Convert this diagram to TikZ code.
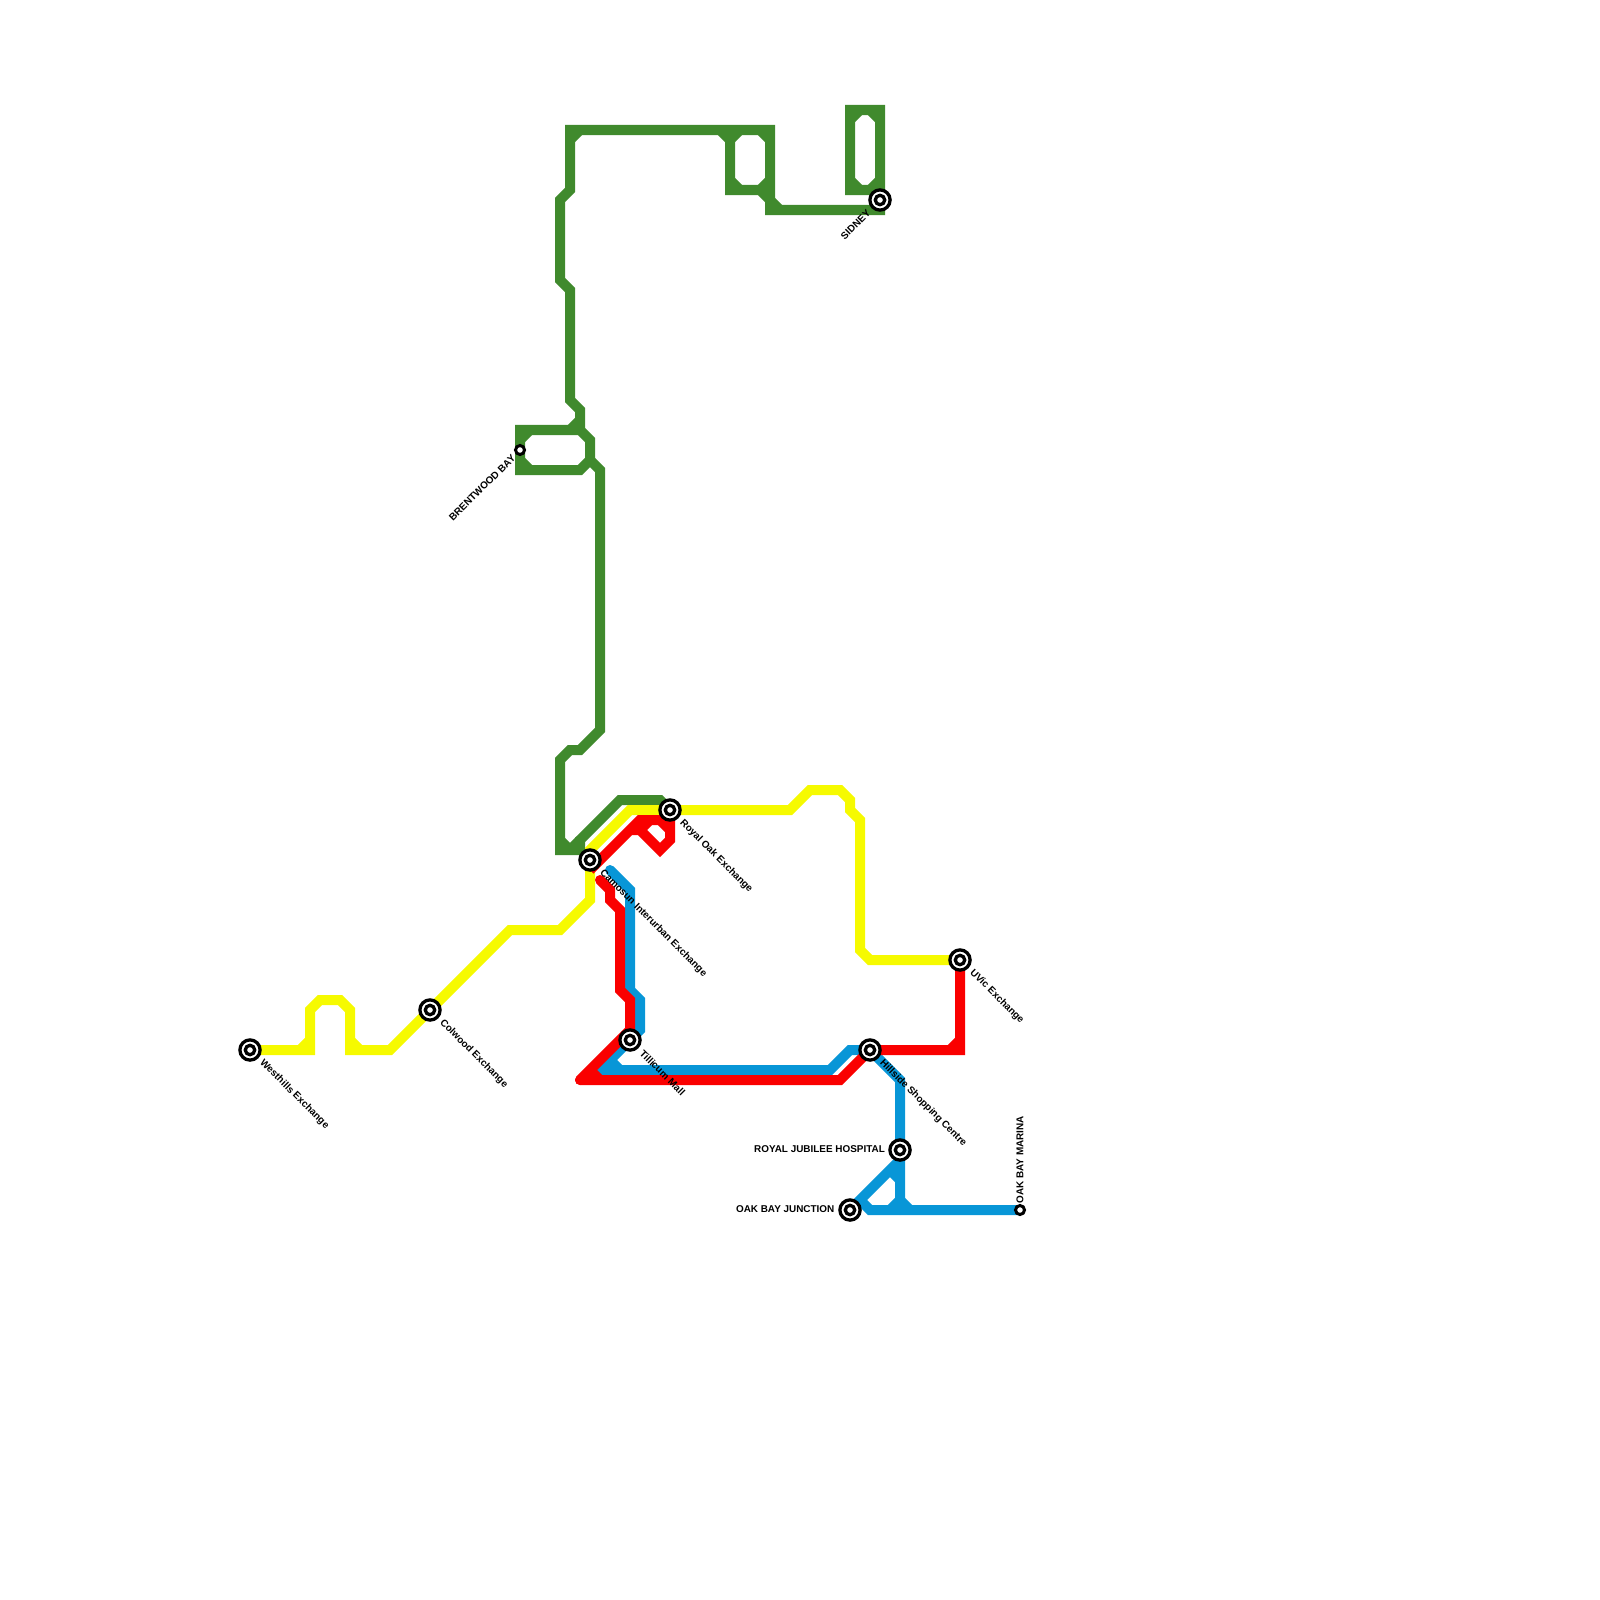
\documentclass[tikz,border=0pt]{standalone}
\usepackage{fontspec}
\setmainfont{Liberation Sans}
\usepackage{xcolor}
\usepackage{tikz}
\definecolor{linegreen}{RGB}{64,138,45}
\definecolor{lineyellow}{RGB}{246,250,0}
\definecolor{linered}{RGB}{250,0,0}
\definecolor{lineblue}{RGB}{8,150,215}

\begin{document}
\begin{tikzpicture}[x=0.01cm, y=-0.01cm,
  route/.style={line width=1mm, line join=miter},
  stn/.style={circle, draw=black, fill=white, line width=0.33mm, minimum size=2.02mm, inner sep=0pt,
    path picture={\draw[black, line width=0.33mm] (path picture bounding box.center) circle (0.47mm);}},
  halt/.style={circle, draw=black, fill=white, line width=0.3mm, minimum size=0.9mm, inner sep=0pt},
  lbl/.style={inner sep=0pt, text=black, font=\fontsize{2.82pt}{3.2pt}\selectfont\bfseries}]
  \useasboundingbox (0,0) rectangle (1600,1600);
  % green: north loops, then the long run south to Royal Oak
  \draw[route, linegreen] (880,190) -- (850,190) -- (850,110) -- (880,110) -- (880,210)
     -- (770,210) -- (770,130) -- (570,130) -- (570,190) -- (560,200) -- (560,280)
     -- (570,290) -- (570,400) -- (580,410) -- (580,430) -- (520,430) -- (520,470)
     -- (580,470) -- (590,460) -- (590,440) -- (580,430);
  \draw[route, linegreen] (590,460) -- (600,470) -- (600,730) -- (580,750) -- (570,750)
     -- (560,760) -- (560,850) -- (580,850) -- (580,840) -- (620,800) -- (660,800) -- (670,810);
  % green: inner corners and short links
  \draw[route, linegreen] (850,120) -- (860,110);
  \draw[route, linegreen] (870,110) -- (880,120);
  \draw[route, linegreen] (850,180) -- (860,190);
  \draw[route, linegreen] (870,190) -- (880,180);
  \draw[route, linegreen] (720,130) -- (730,140) -- (730,190) -- (760,190) -- (780,210);
  \draw[route, linegreen] (730,140) -- (740,130);
  \draw[route, linegreen] (760,130) -- (770,140);
  \draw[route, linegreen] (730,180) -- (740,190);
  \draw[route, linegreen] (760,190) -- (770,180);
  \draw[route, linegreen] (570,140) -- (580,130);
  \draw[route, linegreen] (570,430) -- (580,420);
  \draw[route, linegreen] (520,440) -- (530,430);
  \draw[route, linegreen] (520,460) -- (530,470);
  \draw[route, linegreen] (560,840) -- (570,850);
  \draw[route, linegreen] (570,850) -- (580,840);
  % yellow
  \draw[route, lineyellow] (250,1050) -- (310,1050) -- (310,1010) -- (320,1000) -- (340,1000)
     -- (350,1010) -- (350,1050) -- (390,1050) -- (510,930) -- (560,930) -- (590,900)
     -- (590,850) -- (630,810) -- (790,810) -- (810,790) -- (840,790) -- (850,800)
     -- (850,810) -- (860,820) -- (860,950) -- (870,960) -- (960,960);
  \draw[route, lineyellow] (300,1050) -- (310,1040);
  \draw[route, lineyellow] (350,1040) -- (360,1050);
  % blue
  \draw[route, lineblue, line cap=round] (610,870) -- (630,890) -- (630,990) -- (640,1000)
     -- (640,1030) -- (600,1070) -- (830,1070) -- (850,1050) -- (870,1050) -- (900,1080)
     -- (900,1210);
  \draw[route, lineblue] (610,1060) -- (620,1070);
  \draw[route, lineblue] (850,1210) -- (900,1160);
  \draw[route, lineblue] (860,1200) -- (870,1210) -- (1020,1210);
  \draw[route, lineblue] (890,1170) -- (900,1180);
  \draw[route, lineblue] (890,1210) -- (900,1200) -- (910,1210);
  % red
  \draw[route, linered] (590,870) -- (640,820) -- (670,820) -- (670,840) -- (660,850) -- (640,830) -- (630,830);
  \draw[route, linered] (660,820) -- (670,830);
  \draw[route, linered] (640,830) -- (650,820);
  \draw[route, linered, line cap=round] (600,880) -- (610,890) -- (610,900) -- (620,910) -- (620,990)
     -- (630,1000) -- (630,1030);
  \draw[route, linered, line cap=round] (630,1030) -- (580,1080);
  \draw[route, linered, line cap=round] (580,1080) -- (840,1080) -- (870,1050)
     -- (960,1050) -- (960,960);
  \draw[route, linered] (590,1070) -- (600,1080);
  \draw[route, linered] (950,1050) -- (960,1040);
  % stations
  \node[stn] (westhills) at (250,1050) {};
  \node[stn] (colwood) at (430,1010) {};
  \node[stn] (camosun) at (590,860) {};
  \node[stn] (royaloak) at (670,810) {};
  \node[stn] (tillicum) at (630,1040) {};
  \node[stn] (hillside) at (870,1050) {};
  \node[stn] (uvic) at (960,960) {};
  \node[stn] (jubilee) at (900,1150) {};
  \node[stn] (junction) at (850,1210) {};
  \node[stn] (sidney) at (880,200) {};
  \node[halt] (marina) at (1020,1210) {};
  \node[halt] (brentwood) at (520,450) {};
  % labels
  \node[lbl, rotate=-45, anchor=west] (westhillslbl) at (261,1061) {Westhills Exchange};
  \node[lbl, rotate=-45, anchor=west] (colwoodlbl) at (441,1021) {Colwood Exchange};
  \node[lbl, rotate=-45, anchor=west] (camosunlbl) at (601,871) {Camosun Interurban Exchange};
  \node[lbl, rotate=-45, anchor=west] (royaloaklbl) at (681,821) {Royal Oak Exchange};
  \node[lbl, rotate=-45, anchor=west] (tillicumlbl) at (641,1051) {Tillicum Mall};
  \node[lbl, rotate=-45, anchor=west] (hillsidelbl) at (881,1061) {Hillside Shopping Centre};
  \node[lbl, rotate=-45, anchor=west] (uviclbl) at (971,971) {UVic Exchange};
  \node[lbl, anchor=east] (jubileelbl) at (885.5,1149) {ROYAL JUBILEE HOSPITAL};
  \node[lbl, anchor=east] (junctionlbl) at (835,1209) {OAK BAY JUNCTION};
  \node[lbl, rotate=45, anchor=east] (sidneylbl) at (869,211) {SIDNEY};
  \node[lbl, rotate=45, anchor=east] (brentwoodlbl) at (514,456) {BRENTWOOD BAY};
  \node[lbl, rotate=90, anchor=west] (marinalbl) at (1020,1204) {OAK BAY MARINA};
\end{tikzpicture}
\end{document}
